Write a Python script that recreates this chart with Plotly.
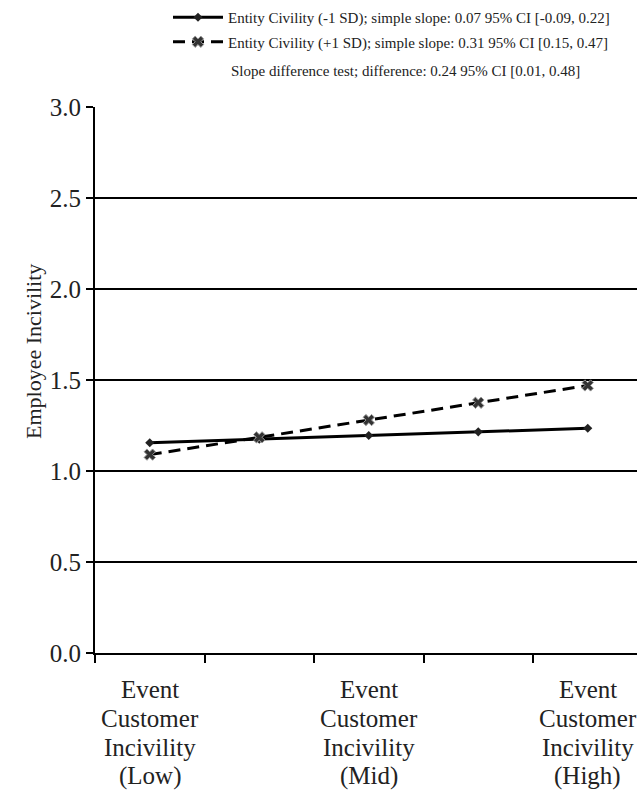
import plotly.graph_objects as go

# Data
categories = ["Low", "Low-Mid", "Mid", "Mid-High", "High"]
x_pos = [0, 1, 2, 3, 4]
low_civility = [1.155, 1.175, 1.195, 1.215, 1.235]
high_civility = [1.09, 1.185, 1.28, 1.375, 1.47]
series_names = [
    "Entity Civility (-1 SD); simple slope: 0.07 95% CI [-0.09, 0.22]",
    "Entity Civility (+1 SD); simple slope: 0.31 95% CI [0.15, 0.47]",
]
note_text = "Slope difference test; difference: 0.24 95% CI [0.01, 0.48]"
y_ticks = [0.0, 0.5, 1.0, 1.5, 2.0, 2.5, 3.0]
label_positions = [0, 2, 4]
label_lines = [
    ["Event", "Customer", "Incivility", "(Low)"],
    ["Event", "Customer", "Incivility", "(Mid)"],
    ["Event", "Customer", "Incivility", "(High)"],
]
y_title = "Employee Incivility"

FONT = "Liberation Serif"
W, H = 637, 790
L, T, B = 95, 107, 137
plot_h = H - T - B
plot_w = W - L

fig = go.Figure()
fig.add_trace(go.Scatter(
    x=x_pos, y=low_civility, mode="lines+markers", name=series_names[0],
    legendgroup="a",
    line=dict(color="black", width=3),
    marker=dict(symbol="diamond", size=7, color="#222"),
))
fig.add_trace(go.Scatter(
    x=x_pos, y=high_civility, mode="lines+markers", name=series_names[1],
    legendgroup="b",
    line=dict(color="black", width=3, dash="12px,7px"),
    marker=dict(symbol="x", size=10, color="#333", line=dict(color="#999", width=1)),
))

def px_x(px):
    return (px - L) / plot_w

def px_y(py):
    return (H - B - py) / plot_h

annotations = []
for xp, lines in zip(label_positions, label_lines):
    for i, t in enumerate(lines):
        annotations.append(dict(
            x=xp, xref="x", y=px_y(689 + 29 * i), yref="paper",
            text=t, showarrow=False, xanchor="center", yanchor="middle",
            font=dict(family=FONT, size=25, color="#222"),
        ))
annotations.append(dict(
    x=px_x(33), xref="paper", y=px_y(352), yref="paper", text=y_title,
    textangle=-90, showarrow=False, xanchor="center", yanchor="middle",
    font=dict(family=FONT, size=22, color="#222"),
))
annotations.append(dict(
    x=px_x(229), xref="paper", y=px_y(71), yref="paper", text=note_text,
    showarrow=False, xanchor="left", yanchor="middle",
    font=dict(family=FONT, size=15, color="#222"),
))

fig.update_layout(
    width=W, height=H,
    margin=dict(l=L, r=0, t=T, b=B, pad=0),
    paper_bgcolor="white", plot_bgcolor="white",
    font=dict(family=FONT, color="#222"),
    showlegend=True,
    legend=dict(
        x=px_x(168), y=px_y(1), xanchor="left", yanchor="top",
        font=dict(family=FONT, size=15, color="#222"),
        traceorder="grouped", tracegroupgap=2,
        bgcolor="rgba(0,0,0,0)", itemwidth=50,
    ),
    xaxis=dict(
        range=[-0.5, -0.5 + plot_w / 109.5], showgrid=False, zeroline=False,
        tickvals=[-0.5, 0.5, 1.5, 2.5, 3.5], showticklabels=False,
        ticks="outside", ticklen=8, tickwidth=2, tickcolor="black",
        showline=True, linecolor="black", linewidth=2,
    ),
    yaxis=dict(
        range=[0, 3], tickvals=y_ticks, ticktext=[f"{v:.1f}" for v in y_ticks],
        showgrid=True, gridcolor="black", gridwidth=2, zeroline=False,
        ticks="outside", ticklen=7, tickwidth=2, tickcolor="black",
        showline=True, linecolor="black", linewidth=2,
        tickfont=dict(family=FONT, size=25, color="#222"),
    ),
    annotations=annotations,
)

fig.write_html(
    "out.html",
    config={"displayModeBar": False},
    post_script="document.body.style.margin='0';document.body.style.overflow='hidden';",
)
